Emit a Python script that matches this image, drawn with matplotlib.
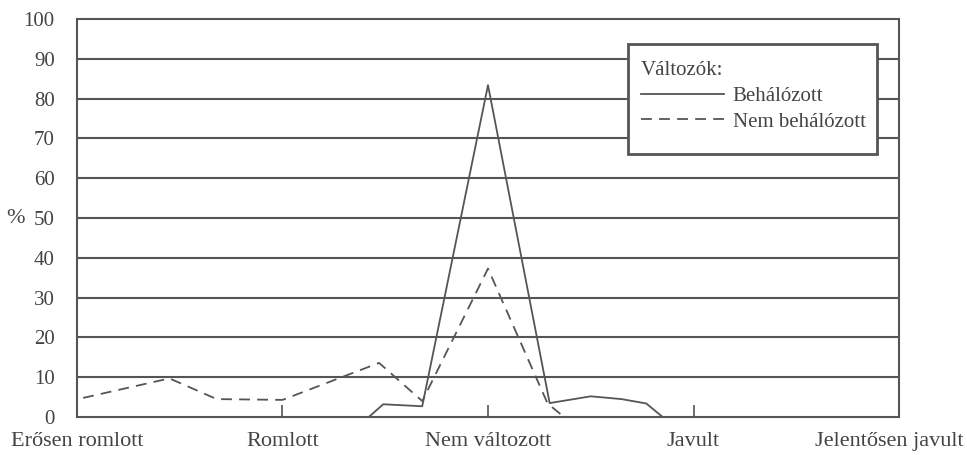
import numpy as np
import matplotlib
matplotlib.use("Agg")
import matplotlib.pyplot as plt
from matplotlib.patches import Rectangle
from matplotlib.transforms import ScaledTranslation

categories = ["Erősen romlott", "Romlott", "Nem változott", "Javult", "Jelentősen javult"]

# x positions are in category units (0 = Erősen romlott ... 4 = Jelentősen javult)
beh_x = [1.42, 1.49, 1.68, 2.0, 2.30, 2.50, 2.65, 2.77, 2.85]
beh_y = [0.0, 3.2, 2.7, 83.4, 3.5, 5.2, 4.5, 3.4, 0.0]

nembeh_x = [0.03, 0.45, 0.68, 1.0, 1.47, 1.68, 2.0, 2.29, 2.37]
nembeh_y = [4.8, 9.7, 4.5, 4.3, 13.6, 4.0, 37.3, 3.4, 0.0]

yticks = list(range(0, 101, 10))

plt.rcParams["font.family"] = ["Liberation Serif", "DejaVu Serif"]
col = "#555555"
txt = "#444444"
W, H = 967, 455

fig = plt.figure(figsize=(W / 100, H / 100), dpi=100)
ax = fig.add_axes([0.0796, 0.0835, 0.8501, 0.8745])

for y in yticks[1:-1]:
    ax.axhline(y, color=col, lw=1.5, zorder=1)

ax.plot(beh_x, beh_y, color=col, lw=1.3, label="Behálózott", zorder=3)
ax.plot(nembeh_x, nembeh_y, color=col, lw=1.3, dashes=(6, 4),
        label="Nem behálózott", zorder=3)

ax.set_xlim(0, len(categories) - 1)
ax.set_ylim(0, 100)
ax.set_xticks(range(len(categories)))
ax.set_xticklabels(categories, fontsize=16, color=txt)
ax.set_yticks(yticks)
ax.set_yticklabels([str(v) for v in yticks], fontsize=15, color=txt)
ax.tick_params(axis="x", direction="in", length=9, width=1.2, color=col, pad=11)
ax.tick_params(axis="y", length=0, pad=16)
for s in ax.spines.values():
    s.set_color(col)
    s.set_linewidth(1.5)

# last category label sits flush with the right edge, as in the print
last = ax.get_xticklabels()[-1]
last.set_ha("right")
last.set_transform(last.get_transform() + ScaledTranslation(0.65, 0, fig.dpi_scale_trans))

ax.set_ylabel("%", rotation=0, fontsize=16, color=txt, va="center")
ax.yaxis.set_label_coords(-0.075, 0.5)

# legend box
ax.add_patch(Rectangle((628 / W, 1 - 154 / H), 249 / W, 110 / H,
                       transform=fig.transFigure, facecolor="white",
                       edgecolor=col, lw=2, zorder=4, clip_on=False))
leg = ax.legend(title="Változók:", loc="upper left",
                bbox_to_anchor=(641 / W, 1 - 61 / H), bbox_transform=fig.transFigure,
                borderaxespad=0, borderpad=0, frameon=False,
                fontsize=15, title_fontsize=15, handlelength=4.0,
                handletextpad=0.4, labelspacing=0.3, alignment="left")
leg.set_zorder(5)
leg.get_title().set_color(txt)
for t in leg.get_texts():
    t.set_color(txt)

fig.savefig("out.png", dpi=100)
